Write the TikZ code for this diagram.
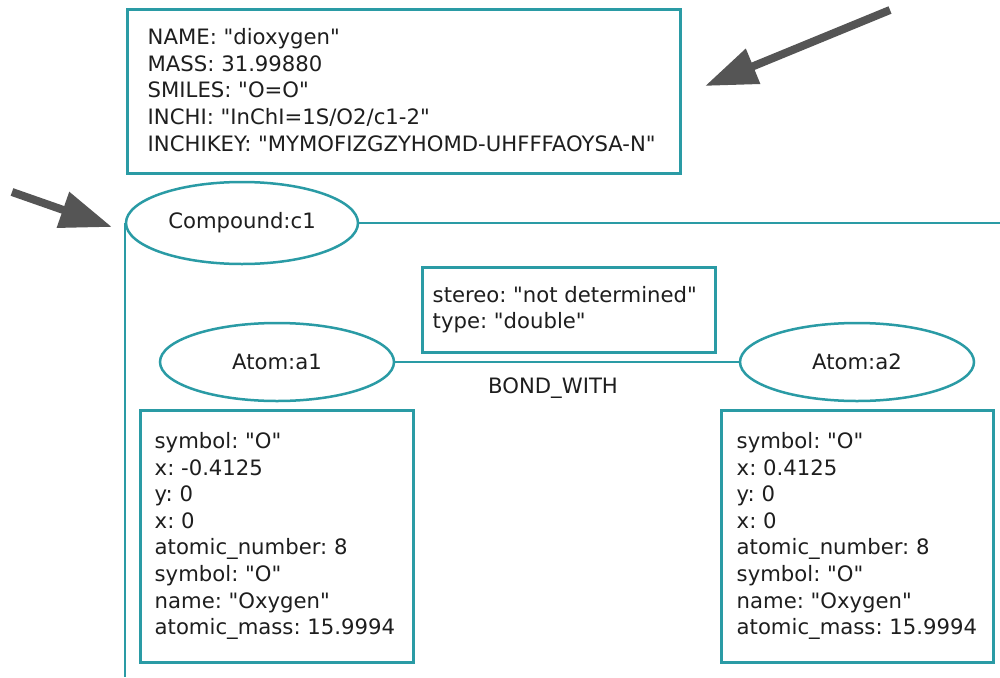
\documentclass[tikz,border=0pt]{standalone}
\usepackage{fontspec}
\newfontfamily\dvs{DejaVu Sans}
\usetikzlibrary{shapes.geometric,arrows.meta}
\definecolor{teal1}{HTML}{2A9BA5}
\definecolor{txt}{HTML}{1E1E1E}
\definecolor{arrowgray}{HTML}{555555}
\begin{document}
\frenchspacing
\begin{tikzpicture}[x=1pt,y=-1pt,
  every node/.style={text=txt,font=\dvs\fontsize{21.2}{26.6}\selectfont},
  infobox/.style={draw=teal1,line width=3pt,rectangle,inner sep=0pt},
  boxtext/.style={anchor=west,align=left,inner sep=0pt},
  oval/.style={draw=teal1,line width=2.5pt,ellipse,inner sep=0pt},
  link/.style={draw=teal1,line width=2.5pt},
  bigarrow/.style={draw=arrowgray,line width=8pt,-{Triangle[length=52pt,width=36pt]},arrowgray}]
\useasboundingbox (0,0) rectangle (1000,677);
\fill[white] (0,0) rectangle (1000,677);

\node[infobox,minimum width=553pt,minimum height=163pt] (props) at (403.5,91.5) {};
\node[boxtext] (propstext) at ([xshift=22pt,yshift=1.5pt]props.west)
 {NAME: "dioxygen"\\MASS: 31.99880\\SMILES: "O=O"\\INCHI: "InChI=1S/O2/c1-2"\\INCHIKEY: "MYMOFIZGZYHOMD-UHFFFAOYSA-N"};

\node[oval,minimum width=232pt,minimum height=82pt] (c1) at (242,223) {Compound:c1};

\node[infobox,minimum width=293pt,minimum height=85pt] (bond) at (568.5,309.5) {};
\node[boxtext] (bondtext) at ([xshift=12pt]bond.west)
 {stereo: "not determined"\\type: "double"};

\node[oval,minimum width=234pt,minimum height=78pt] (a1) at (277,362) {Atom:a1};
\node[oval,minimum width=234pt,minimum height=78pt] (a2) at (857,362) {Atom:a2};

\node (bw) at (553,388) {BOND\_WITH};

\node[infobox,minimum width=273pt,minimum height=252pt] (a1props) at (276.5,536) {};
\node[boxtext] (a1text) at ([xshift=16pt]a1props.west)
 {symbol: "O"\\x: -0.4125\\y: 0\\x: 0\\atomic\_number: 8\\symbol: "O"\\name: "Oxygen"\\atomic\_mass: 15.9994};
\node[infobox,minimum width=272pt,minimum height=252pt] (a2props) at (857,536) {};
\node[boxtext] (a2text) at ([xshift=17pt]a2props.west)
 {symbol: "O"\\x: 0.4125\\y: 0\\x: 0\\atomic\_number: 8\\symbol: "O"\\name: "Oxygen"\\atomic\_mass: 15.9994};

\coordinate (rightend) at (1000,223);
\coordinate (bottomend) at (125,677);
\draw[link] (c1.east) -- (rightend);
\draw[link] (c1.west) -- (c1.west |- bottomend);
\draw[link] (a1.east) -- (a2.west);

\coordinate (t1) at (890,10);
\coordinate (h1) at (705,86);
\coordinate (t2) at (12,192);
\coordinate (h2) at (112,227);
\draw[bigarrow] (t1) -- (h1);
\draw[bigarrow] (t2) -- (h2);
\end{tikzpicture}
\end{document}
